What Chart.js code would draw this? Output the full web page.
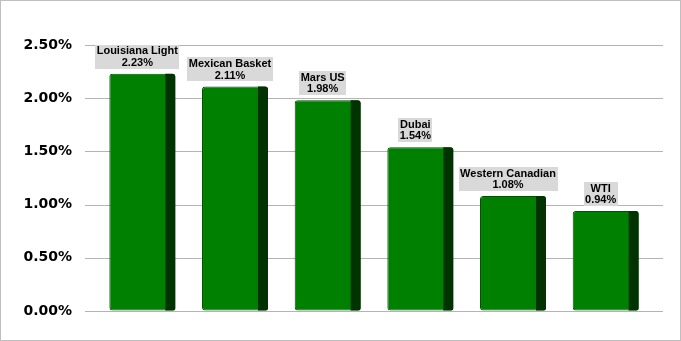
<!DOCTYPE html>
<html>
<head>
<meta charset="utf-8">
<script src="https://cdn.jsdelivr.net/npm/chart.js@4/dist/chart.umd.min.js"></script>
<style>
  html, body { margin: 0; padding: 0; background: #fff; }
  #wrap { width: 681px; height: 341px; box-sizing: border-box; border: 1px solid #bfbfbf; position: relative; }
  canvas { display: block; }
</style>
</head>
<body>
<div id="wrap"><canvas id="my-chart" width="679" height="339"></canvas></div>
<script>
// spread values (%)
const crudes = ['Louisiana Light', 'Mexican Basket', 'Mars US', 'Dubai', 'Western Canadian', 'WTI'];
const spreads = [2.23, 2.11, 1.98, 1.54, 1.08, 0.94];
const yTicks = [0, 0.5, 1, 1.5, 2, 2.5];

const frontColor = '#008000';
const sideColor = '#003300';
const sideW = 10;

// grid lines reach a bit past the plot area on both sides (3d depth look)
const gridLines = {
  id: 'gridLines',
  beforeDatasetsDraw(chart) {
    const ctx = chart.ctx;
    const area = chart.chartArea;
    const yScale = chart.scales.y;
    ctx.save();
    ctx.strokeStyle = '#b4b4b4';
    ctx.lineWidth = 1;
    yTicks.forEach(t => {
      const py = Math.round(yScale.getPixelForValue(t)) + 0.5;
      ctx.beginPath();
      ctx.moveTo(area.left - 11, py);
      ctx.lineTo(area.right + 11, py);
      ctx.stroke();
    });
    ctx.restore();
  }
};

// dark side of each bar + the label boxes
const barDecor = {
  id: 'barDecor',
  afterDatasetsDraw(chart) {
    const ctx = chart.ctx;
    ctx.save();
    const meta = chart.getDatasetMeta(0);
    meta.data.forEach((bar, i) => {
      const right = bar.x + bar.width / 2;
      const top = bar.y;
      const base = bar.base;
      ctx.fillStyle = sideColor;
      ctx.beginPath();
      ctx.roundRect(right - sideW, top, sideW, base - top, [0, 3, 2, 0]);
      ctx.fill();

      const cx = bar.x - sideW / 2;
      ctx.font = 'bold 11px "Liberation Sans", Arial, sans-serif';
      const line1 = crudes[i];
      const line2 = spreads[i].toFixed(2) + '%';
      const w = Math.max(ctx.measureText(line1).width, ctx.measureText(line2).width) + 3;
      const h = 24;
      const boxBottom = top - 5;
      ctx.fillStyle = '#d9d9d9';
      ctx.fillRect(Math.round(cx - w / 2), Math.round(boxBottom - h), Math.round(w), h);
      ctx.fillStyle = '#000';
      ctx.textAlign = 'center';
      ctx.textBaseline = 'middle';
      ctx.fillText(line1, cx, boxBottom - h + 6.5);
      ctx.fillText(line2, cx, boxBottom - h + 18);
    });
    ctx.restore();
  }
};

const ctxBar = document.getElementById('my-chart').getContext('2d');
const myChartBar = new Chart(ctxBar, {
  type: 'bar',
  data: {
    labels: crudes,
    datasets: [{
      data: spreads,
      backgroundColor: frontColor,
      borderColor: '#005200',
      borderWidth: 1,
      borderRadius: 3,
      borderSkipped: false,
      barPercentage: 0.712,
      categoryPercentage: 1
    }]
  },
  options: {
    responsive: false,
    animation: false,
    layout: { padding: { top: 44, bottom: 29, right: 28, left: 0 } },
    plugins: {
      legend: { display: false },
      tooltip: { enabled: false }
    },
    scales: {
      x: {
        display: false
      },
      y: {
        min: 0,
        max: 2.5,
        afterFit(scale) { scale.width = 95; },
        border: { display: false },
        grid: { color: 'rgba(0,0,0,0)', drawTicks: true, tickLength: 11 },
        ticks: {
          stepSize: 0.5,
          padding: 13,
          color: '#000',
          font: { family: '"DejaVu Sans", Verdana, sans-serif', size: 14, weight: 'bold' },
          callback: v => v.toFixed(2) + '%'
        }
      }
    }
  },
  plugins: [gridLines, barDecor]
});
</script>
</body>
</html>
